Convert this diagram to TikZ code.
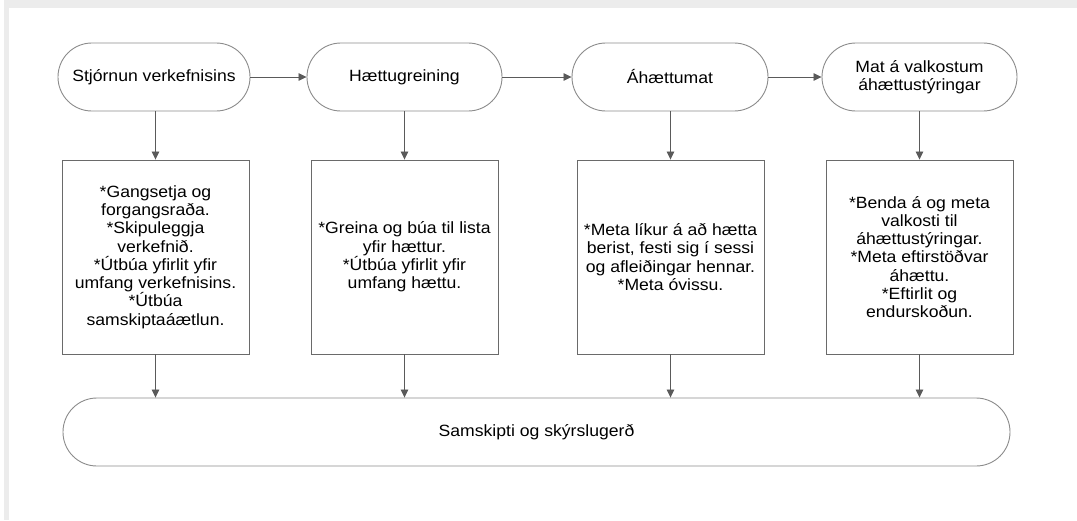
\documentclass[tikz,border=0pt]{standalone}
\usepackage{fontspec}
\setmainfont[FakeStretch=1.08]{Liberation Sans}
\usetikzlibrary{arrows.meta}
\definecolor{linegray}{HTML}{5A5A5A}
\definecolor{stadgray}{HTML}{8C8C8C}
\definecolor{boxgray}{HTML}{6A6A6A}
\definecolor{framegray}{HTML}{ECECEC}
\begin{document}
\begin{tikzpicture}[x=1pt,y=-1pt,
  every node/.style={font=\fontsize{16.3}{18.3}\selectfont, align=center, inner sep=0pt},
  stad/.style={draw=stadgray, line width=0.9pt, rounded corners=33.9pt, minimum height=68pt, fill=white},
  tbox/.style={draw=boxgray, line width=0.9pt, minimum width=187pt, minimum height=194pt, fill=white},
  conn/.style={draw=linegray, line width=0.8pt, -{Triangle[length=8pt,width=7.5pt]}, shorten >=0pt}
]
\useasboundingbox (0,0) rectangle (1077,520);
\fill[white] (0,0) rectangle (1077,520);
\fill[framegray] (4,0) rectangle (1077,8);
\fill[framegray] (4,0) rectangle (9,520);

% top stadiums
\node[stad, minimum width=192pt] (s1) at (154,77) {Stjórnun verkefnisins};
\node[stad, minimum width=195pt] (s2) at (404.5,77) {Hættugreining};
\node[stad, minimum width=196pt] (s3) at (670,77) {Áhættumat};
\node[stad, minimum width=195pt] (s4) at (919.5,77) {Mat á valkostum\\áhættustýringar};

% boxes
\node[tbox] (b1) at (155.5,257) {*Gangsetja og\\forgangsraða.\\*Skipuleggja\\verkefnið.\\*Útbúa yfirlit yfir\\umfang verkefnisins.\\*Útbúa\\samskiptaáætlun.};
\node[tbox] (b2) at (404.5,257) {*Greina og búa til lista\\yfir hættur.\\*Útbúa yfirlit yfir\\umfang hættu.};
\node[tbox] (b3) at (670.5,257) {*Meta líkur á að hætta\\berist, festi sig í sessi\\og afleiðingar hennar.\\*Meta óvissu.};
\node[tbox] (b4) at (919.5,257) {*Benda á og meta\\valkosti til\\áhættustýringar.\\*Meta eftirstöðvar\\áhættu.\\*Eftirlit og\\endurskoðun.};

% bottom stadium
\node[stad, minimum width=947pt] (bot) at (536.5,432) {Samskipti og skýrslugerð};

% horizontal connectors
\draw[conn] (s1.east) -- (s2.west);
\draw[conn] (s2.east) -- (s3.west);
\draw[conn] (s3.east) -- (s4.west);

% vertical connectors
\draw[conn] (s1.south -| b1.north) -- (b1.north);
\draw[conn] (b2.north |- s2.south) -- (b2.north);
\draw[conn] (b3.north |- s3.south) -- (b3.north);
\draw[conn] (b4.north |- s4.south) -- (b4.north);

\draw[conn] (b1.south) -- (b1.south |- bot.north);
\draw[conn] (b2.south) -- (b2.south |- bot.north);
\draw[conn] (b3.south) -- (b3.south |- bot.north);
\draw[conn] (b4.south) -- (b4.south |- bot.north);
\end{tikzpicture}
\end{document}
